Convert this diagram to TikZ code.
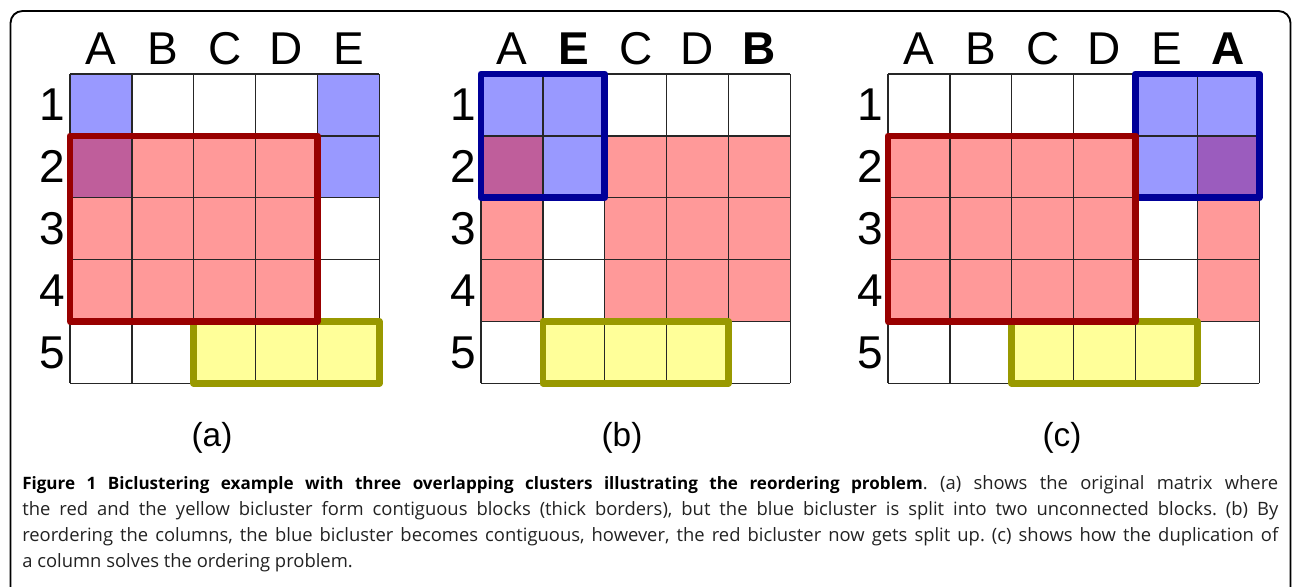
\documentclass[tikz,border=0pt]{standalone}
\usepackage{fontspec}
\setmainfont{Liberation Sans}
\newfontfamily\capfont{Open Sans}
\definecolor{cblue}{HTML}{9999FF}
\definecolor{cred}{HTML}{FF9999}
\definecolor{cyel}{HTML}{FFFF99}
\definecolor{cmixa}{HTML}{BF5E9B}
\definecolor{cmixc}{HTML}{9B5CBE}
\definecolor{bred}{HTML}{990000}
\definecolor{bblue}{HTML}{000099}
\definecolor{byel}{HTML}{999900}
\definecolor{captext}{HTML}{222222}
\frenchspacing
\tikzset{
  gridline/.style={line width=1pt, draw=black!85},
  boxline/.style={line width=5pt, line join=round, line cap=round},
  colname/.style={font=\fontsize{34.5}{36}\selectfont, anchor=base, inner sep=0},
  rowname/.style={font=\fontsize{34.5}{36}\selectfont, anchor=east, inner sep=0},
  panelname/.style={font=\fontsize{25}{28}\selectfont, inner sep=0},
  cellunit/.style={x=46.4pt, y=-46.4pt}
}
\newcommand\cellgrid[2]{%
  \foreach \gi in {0,...,#1} \draw[gridline] (\gi,0) -- (\gi,#2);
  \foreach \gj in {0,...,#2} \draw[gridline] (0,\gj) -- (#1,\gj);
}
\begin{document}
\begin{tikzpicture}[x=0.75pt, y=-0.75pt]
\useasboundingbox (0,0) rectangle (1292,586);
\begin{scope}
  \clip (0,0) rectangle (1292,586);
  \draw[line width=1.4pt, rounded corners=9pt] (10.5,11) rectangle (1290.5,660);
\end{scope}

% ---------- panel (a)
\begin{scope}[shift={(52.5pt,-55.5pt)}, cellunit]
  \fill[cblue] (0,0) rectangle (1,1) (4,0) rectangle (5,2);
  \fill[cmixa] (0,1) rectangle (1,2);
  \fill[cred] (1,1) rectangle (4,2) (0,2) rectangle (4,4);
  \fill[cyel] (2,4) rectangle (5,5);
  \cellgrid{5}{5}
  \draw[boxline, byel] (2,4) rectangle (5,5);
  \draw[boxline, bred] (0,1) rectangle (4,4);
  \foreach \n [count=\i from 0] in {A,B,C,D,E}
    \node[colname] (a-col\i) at (\i+0.5,-0.15) {\n};
  \foreach \r in {1,...,5}
    \node[rowname] (a-row\r) at (-0.08,\r-0.5) {\r};
\end{scope}

% ---------- panel (b)
\begin{scope}[shift={(360.75pt,-55.5pt)}, cellunit]
  \fill[cblue] (0,0) rectangle (2,1) (1,1) rectangle (2,2);
  \fill[cmixa] (0,1) rectangle (1,2);
  \fill[cred] (2,1) rectangle (5,4) (0,2) rectangle (1,4);
  \fill[cyel] (1,4) rectangle (4,5);
  \cellgrid{5}{5}
  \draw[boxline, byel] (1,4) rectangle (4,5);
  \draw[boxline, bblue] (0,0) rectangle (2,2);
  \foreach \n [count=\i from 0] in {A,\textbf{E},C,D,\textbf{B}}
    \node[colname] (b-col\i) at (\i+0.5,-0.15) {\n};
  \foreach \r in {1,...,5}
    \node[rowname] (b-row\r) at (-0.08,\r-0.5) {\r};
\end{scope}

% ---------- panel (c)
\begin{scope}[shift={(666pt,-55.5pt)}, cellunit]
  \fill[cblue] (4,0) rectangle (6,1) (4,1) rectangle (5,2);
  \fill[cmixc] (5,1) rectangle (6,2);
  \fill[cred] (0,1) rectangle (4,4) (5,2) rectangle (6,4);
  \fill[cyel] (2,4) rectangle (5,5);
  \cellgrid{6}{5}
  \draw[boxline, byel] (2,4) rectangle (5,5);
  \draw[boxline, bblue] (4,0) rectangle (6,2);
  \draw[boxline, bred] (0,1) rectangle (4,4);
  \foreach \n [count=\i from 0] in {A,B,C,D,E,\textbf{A}}
    \node[colname] (c-col\i) at (\i+0.5,-0.15) {\n};
  \foreach \r in {1,...,5}
    \node[rowname] (c-row\r) at (-0.08,\r-0.5) {\r};
\end{scope}

\node[panelname] (la) at (212,438) {(a)};
\node[panelname] (lb) at (622,438) {(b)};
\node[panelname] (lc) at (1062,438) {(c)};

\node[anchor=base west, inner sep=0, text width=942pt, align=justify, text=captext,
      font=\capfont\fontsize{13.8}{19.5}\selectfont\frenchspacing] (caption) at (22,489)
 {{\fontsize{12.8}{19.5}\selectfont\bfseries\color{black}Figure 1 Biclustering example with three overlapping clusters illustrating the reordering problem}. (a) shows the original matrix where\linebreak
 the red and the yellow bicluster form contiguous blocks (thick borders), but the blue bicluster is split into two unconnected blocks. (b) By\linebreak
 reordering the columns, the blue bicluster becomes contiguous, however, the red bicluster now gets split up. (c) shows how the duplication of\linebreak
 a column solves the ordering problem.};
\end{tikzpicture}
\end{document}
